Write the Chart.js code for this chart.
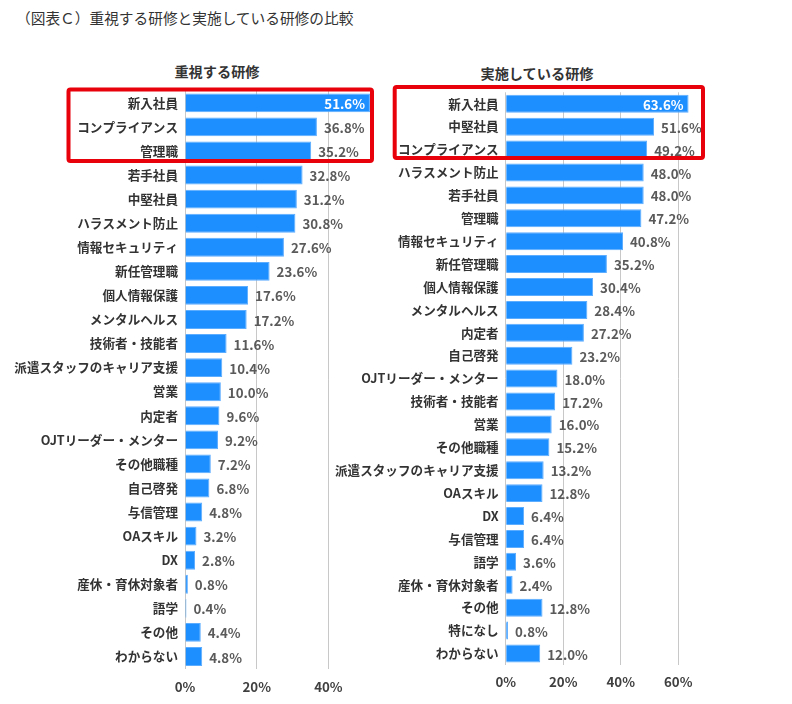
<!DOCTYPE html>
<html>
<head>
<meta charset="utf-8">
<script src="https://cdn.jsdelivr.net/npm/chart.js@4"></script>
<style>
  html, body { margin:0; padding:0; background:#fff; }
  body { width:792px; height:704px; position:relative; overflow:hidden; font-family:"Noto Sans CJK JP","Noto Sans",sans-serif; }
  canvas { position:absolute; top:0; }
  .t { position:absolute; color:#333; white-space:nowrap; line-height:20px; }
</style>
</head>
<body>
<div class="t" style="left:16px;top:8px;font-size:14.7px;">（図表Ｃ）重視する研修と実施している研修の比較</div>
<div class="t" style="left:117px;top:61px;width:200px;text-align:center;font-size:14.2px;font-weight:bold;">重視する研修</div>
<div class="t" style="left:437px;top:63px;width:200px;text-align:center;font-size:14.2px;font-weight:bold;">実施している研修</div>
<canvas id="c1" width="395" height="704" style="left:0px;"></canvas>
<canvas id="c2" width="462" height="704" style="left:330px;"></canvas>
<script>
const leftCategories = ["新入社員","コンプライアンス","管理職","若手社員","中堅社員","ハラスメント防止","情報セキュリティ","新任管理職","個人情報保護","メンタルヘルス","技術者・技能者","派遣スタッフのキャリア支援","営業","内定者","OJTリーダー・メンター","その他職種","自己啓発","与信管理","OAスキル","DX","産休・育休対象者","語学","その他","わからない"];
const leftValues = [51.6,36.8,35.2,32.8,31.2,30.8,27.6,23.6,17.6,17.2,11.6,10.4,10.0,9.6,9.2,7.2,6.8,4.8,3.2,2.8,0.8,0.4,4.4,4.8];

const rightCategories = ["新入社員","中堅社員","コンプライアンス","ハラスメント防止","若手社員","管理職","情報セキュリティ","新任管理職","個人情報保護","メンタルヘルス","内定者","自己啓発","OJTリーダー・メンター","技術者・技能者","営業","その他職種","派遣スタッフのキャリア支援","OAスキル","DX","与信管理","語学","産休・育休対象者","その他","特になし","わからない"];
const rightValues = [63.6,51.6,49.2,48.0,48.0,47.2,40.8,35.2,30.4,28.4,27.2,23.2,18.0,17.2,16.0,15.2,13.2,12.8,6.4,6.4,3.6,2.4,12.8,0.8,12.0];

const tickStep = 20;
const leftMax = 52;
const rightMax = 64;
const highlightCount = 3;

const FONT = "'Noto Sans CJK JP','Noto Sans',sans-serif";
const BAR = "#1e8fff";

const labelPlugin = {
  id: 'vlabels',
  afterDatasetsDraw(chart) {
    const ctx = chart.ctx;
    const meta = chart.getDatasetMeta(0);
    const data = chart.data.datasets[0].data;
    ctx.save();
    ctx.font = "bold 13.3px " + FONT;
    ctx.textBaseline = 'middle';
    meta.data.forEach((bar, i) => {
      const txt = data[i].toFixed(1) + '%';
      if (i === 0) {
        ctx.fillStyle = '#ffffff';
        ctx.textAlign = 'right';
        ctx.fillText(txt, bar.x - 5, bar.y + 1);
      } else {
        ctx.fillStyle = '#5a5a5a';
        ctx.textAlign = 'left';
        ctx.fillText(txt, bar.x + 7, bar.y + 1);
      }
    });
    ctx.restore();
  }
};

function boxPlugin(x0, x1, dTop, dBot) {
  return {
    id: 'redbox',
    afterDraw(chart) {
      const y = chart.scales.y;
      const n = chart.data.labels.length;
      const rowH = (y.bottom - y.top) / n;
      const top = y.getPixelForValue(0) - rowH / 2 + dTop;
      const bot = y.getPixelForValue(highlightCount - 1) + rowH / 2 + dBot;
      const ctx = chart.ctx;
      ctx.save();
      ctx.strokeStyle = '#e8000b';
      ctx.lineWidth = 4;
      ctx.lineJoin = 'round';
      ctx.beginPath();
      if (ctx.roundRect) ctx.roundRect(x0, top, x1 - x0, bot - top, 2);
      else ctx.rect(x0, top, x1 - x0, bot - top);
      ctx.stroke();
      ctx.restore();
    }
  };
}

function makeChart(id, labels, values, max, yWidth, pad, xPad, box) {
  return new Chart(document.getElementById(id), {
    type: 'bar',
    data: {
      labels: labels,
      datasets: [{
        data: values,
        backgroundColor: BAR,
        borderColor: '#5cacff',
        borderWidth: 1,
        categoryPercentage: 1,
        barPercentage: 0.785
      }]
    },
    options: {
      indexAxis: 'y',
      responsive: false,
      animation: false,
      layout: { padding: pad },
      plugins: { legend: { display: false }, tooltip: { enabled: false }, title: { display: false } },
      scales: {
        x: {
          min: 0, max: max,
          border: { display: false },
          grid: { color: '#c8c8c8', lineWidth: 1, drawTicks: false, borderDash: [4, 3] },
          ticks: {
            stepSize: tickStep, includeBounds: false, padding: xPad,
            color: '#404040', font: { family: FONT, size: 13.3, weight: 'bold' },
            callback: v => v + '%'
          },
          afterFit: s => { s.height = 30; }
        },
        y: {
          border: { display: false },
          grid: { display: false, drawTicks: false },
          ticks: { padding: 7, color: '#333333', autoSkip: false, font: { family: FONT, size: 12.6, weight: 'bold' } },
          afterFit: s => { s.width = yWidth; }
        }
      }
    },
    plugins: [labelPlugin, box]
  });
}

makeChart('c1', leftCategories, leftValues, leftMax, 185,
  { left: 0, right: 23.6, top: 90.8, bottom: 5.5 }, 10,
  boxPlugin(68.5, 372, -1.2, -2));

makeChart('c2', rightCategories, rightValues, rightMax, 175.7,
  { left: 0, right: 102.3, top: 92.3, bottom: 9.1 }, 9,
  boxPlugin(64.7, 373, -5.3, -3));
</script>
</body>
</html>
